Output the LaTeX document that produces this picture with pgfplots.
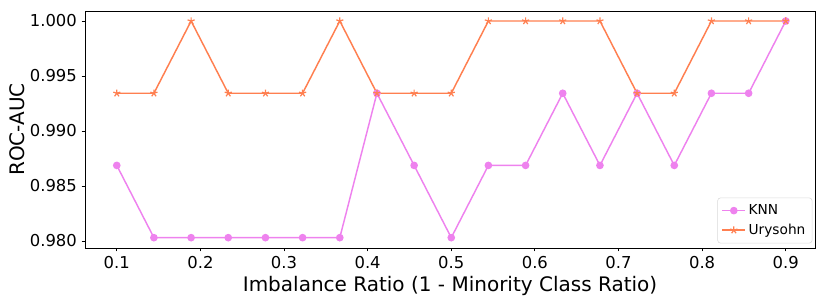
\documentclass[border=0pt]{standalone}
\usepackage{pgfplots}
\pgfplotsset{compat=1.18}
\usepackage{fontspec}
\setmainfont{DejaVu Sans}
\definecolor{knn}{RGB}{238,130,238}
\definecolor{ury}{RGB}{255,127,80}
\begin{document}
\begin{tikzpicture}
\begin{axis}[
  at={(0,0)}, anchor=south west,
  scale only axis, width=547.5pt, height=177.75pt,
  xmin=0.062, xmax=0.935, ymin=0.97936, ymax=1.00091,
  xtick={0.1,0.2,0.3,0.4,0.5,0.6,0.7,0.8,0.9},
  ytick={0.980,0.985,0.990,0.995,1.000},
  scaled y ticks=false, scaled x ticks=false,
  xticklabel style={/pgf/number format/.cd, fixed, fixed zerofill, precision=1},
  yticklabel style={/pgf/number format/.cd, fixed, fixed zerofill, precision=3},
  /pgf/number format/assume math mode=true,
  tick label style={font=\fontsize{12.3}{14}\selectfont},
  tick align=outside, tick pos=left, major tick length=2.6pt,
  every tick/.style={black, line width=0.6pt},
  axis line style={black, line width=0.6pt},
  xlabel={Imbalance Ratio (1 - Minority Class Ratio)},
  ylabel={ROC-AUC},
  label style={font=\fontsize{15}{17}\selectfont},
  xlabel style={at={(axis description cs:0.5,0)}, anchor=center, yshift=-28.5pt},
  ylabel style={at={(axis description cs:-0.0932,0.5)}, anchor=center},
  legend style={at={(1,0)}, anchor=south east, xshift=-2pt, yshift=3.5pt,
    font=\fontsize{10.3}{12}\selectfont, draw=black!15, rounded corners=2pt,
    inner sep=3pt, row sep=1.5pt},
  legend cell align=left,
  every axis plot/.append style={line width=1.1pt},
]
\addplot[color=knn, mark=*, mark size=2.3pt, mark options={solid}] coordinates {
(0.1000,0.98687) (0.1444,0.98030) (0.1889,0.98030) (0.2333,0.98030) (0.2778,0.98030)
(0.3222,0.98030) (0.3667,0.98030) (0.4111,0.99343) (0.4556,0.98687) (0.5000,0.98030)
(0.5444,0.98687) (0.5889,0.98687) (0.6333,0.99343) (0.6778,0.98687) (0.7222,0.99343)
(0.7667,0.98687) (0.8111,0.99343) (0.8556,0.99343) (0.9000,1.00000)
};
\addlegendentry{KNN}
\addplot[color=ury, mark=star, mark size=2.8pt, mark options={solid, line width=0.9pt}] coordinates {
(0.1000,0.99343) (0.1444,0.99343) (0.1889,1.00000) (0.2333,0.99343) (0.2778,0.99343)
(0.3222,0.99343) (0.3667,1.00000) (0.4111,0.99343) (0.4556,0.99343) (0.5000,0.99343)
(0.5444,1.00000) (0.5889,1.00000) (0.6333,1.00000) (0.6778,1.00000) (0.7222,0.99343)
(0.7667,0.99343) (0.8111,1.00000) (0.8556,1.00000) (0.9000,1.00000)
};
\addlegendentry{Urysohn}
\end{axis}
\pgfresetboundingbox
\path[use as bounding box] (-63.75pt,-43.5pt) rectangle (558.75pt,186pt);
\end{tikzpicture}
\end{document}
